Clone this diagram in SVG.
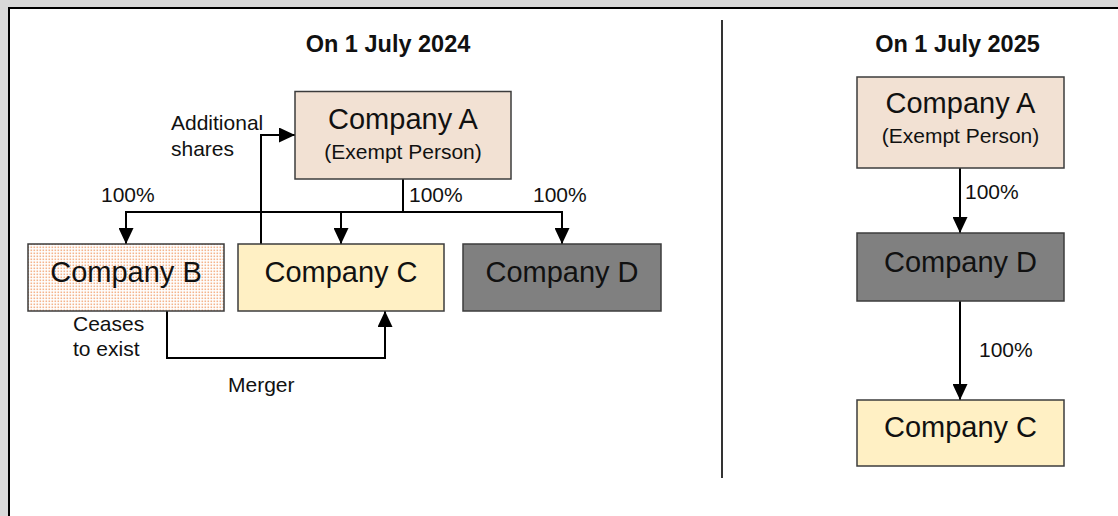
<svg xmlns="http://www.w3.org/2000/svg" width="1118" height="516" viewBox="0 0 1118 516">
  <style>
    .box { stroke: #3c3c3c; stroke-width: 1.5; }
    .fa { fill: #f2e1d3; }
    .fc { fill: #fff0c4; }
    .fd { fill: #808080; }
    .name { font-family: "Liberation Sans", Arial, sans-serif; font-size: 29px; fill: #111; text-anchor: middle; }
    .sub { font-family: "Liberation Sans", Arial, sans-serif; font-size: 21px; fill: #111; text-anchor: middle; }
    .lbl { font-family: "Liberation Sans", Arial, sans-serif; font-size: 21px; fill: #111; }
    .title { font-family: "Liberation Sans", Arial, sans-serif; font-size: 23.5px; font-weight: bold; fill: #111; text-anchor: middle; }
    .wire { fill: none; stroke: #000; stroke-width: 2; }
  </style>
  <defs>
    <marker id="arrow" viewBox="0 0 16 15" refX="16" refY="7.5" markerWidth="16" markerHeight="15" markerUnits="userSpaceOnUse" orient="auto">
      <path d="M0,0 L16,7.5 L0,15 Z" fill="#000"/>
    </marker>
    <pattern id="dots" width="3" height="3" patternUnits="userSpaceOnUse">
      <rect width="3" height="3" fill="#fff"/>
      <rect x="0.5" y="0.5" width="1.6" height="1.6" fill="#f4b48c"/>
    </pattern>
  </defs>

  <!-- page frame -->
  <rect width="1118" height="516" fill="#d9d9d9"/>
  <rect x="9" y="8" width="1109" height="508" fill="#fff"/>
  <line x1="8" y1="8" x2="1118" y2="8" stroke="#000" stroke-width="2"/>
  <line x1="9" y1="8" x2="9" y2="516" stroke="#000" stroke-width="2"/>

  <!-- divider between the two dates -->
  <line x1="722" y1="20" x2="722" y2="478" stroke="#000" stroke-width="1.6"/>

  <text class="title" x="388" y="52">On 1 July 2024</text>
  <text class="title" x="957.5" y="52">On 1 July 2025</text>

  <!-- connectors -->
  <g id="connectors">
    <!-- 2024 shareholdings -->
    <path class="wire" d="M403,179 V212"/>
    <path class="wire" d="M126,212 H562"/>
    <path class="wire" d="M126,211 V244" marker-end="url(#arrow)"/>
    <path class="wire" d="M341,212 V244" marker-end="url(#arrow)"/>
    <path class="wire" d="M562,211 V244" marker-end="url(#arrow)"/>
    <!-- additional shares issued to Company A -->
    <path class="wire" d="M261,244 V135 H295" marker-end="url(#arrow)"/>
    <!-- merger of B into C -->
    <path class="wire" d="M167,311 V358 H385 V311" marker-end="url(#arrow)"/>
    <!-- 2025 chain -->
    <path class="wire" d="M960,168 V233" marker-end="url(#arrow)"/>
    <path class="wire" d="M960,301 V400" marker-end="url(#arrow)"/>
  </g>

  <!-- connector labels -->
  <g id="labels">
    <text class="lbl" x="101" y="202">100%</text>
    <text class="lbl" x="409" y="202">100%</text>
    <text class="lbl" x="533" y="202">100%</text>
    <text class="lbl" x="171" y="130">Additional</text>
    <text class="lbl" x="171" y="156">shares</text>
    <text class="lbl" x="73" y="331">Ceases</text>
    <text class="lbl" x="73" y="356">to exist</text>
    <text class="lbl" x="228" y="392">Merger</text>
    <text class="lbl" x="965" y="199">100%</text>
    <text class="lbl" x="979" y="357">100%</text>
  </g>

  <!-- 2024 nodes -->
  <g id="a2024">
    <rect class="box fa" x="295" y="91.5" width="216" height="87.5"/>
    <text class="name" x="403" y="129">Company A</text>
    <text class="sub" x="403" y="159">(Exempt Person)</text>
  </g>
  <g id="b2024">
    <rect class="box" fill="url(#dots)" x="28" y="244" width="196" height="67"/>
    <text class="name" x="126" y="282">Company B</text>
  </g>
  <g id="c2024">
    <rect class="box fc" x="238" y="244" width="206" height="67"/>
    <text class="name" x="341" y="282">Company C</text>
  </g>
  <g id="d2024">
    <rect class="box fd" x="463" y="244" width="198" height="67"/>
    <text class="name" x="562" y="282">Company D</text>
  </g>

  <!-- 2025 nodes -->
  <g id="a2025">
    <rect class="box fa" x="857" y="77" width="207" height="91"/>
    <text class="name" x="960.5" y="113">Company A</text>
    <text class="sub" x="960.5" y="143">(Exempt Person)</text>
  </g>
  <g id="d2025">
    <rect class="box fd" x="857" y="233" width="207" height="68"/>
    <text class="name" x="960.5" y="272">Company D</text>
  </g>
  <g id="c2025">
    <rect class="box fc" x="857" y="400" width="207" height="66"/>
    <text class="name" x="960.5" y="437">Company C</text>
  </g>
</svg>
